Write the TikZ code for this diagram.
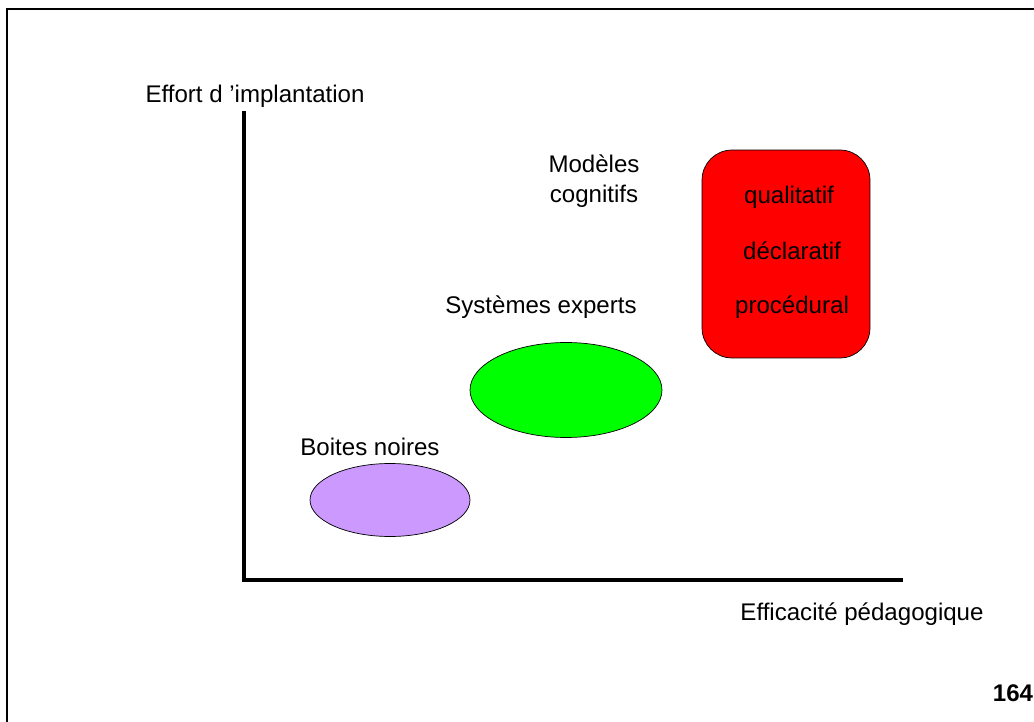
\documentclass[tikz,border=0pt]{standalone}
\usepackage{fontspec}
\setmainfont{Liberation Sans}
\usepackage{xcolor}
\usetikzlibrary{shapes.geometric,positioning}
\definecolor{lilac}{HTML}{CC99FF}
\definecolor{brightgreen}{HTML}{00FF00}
\definecolor{brightred}{HTML}{FF0000}

\begin{document}
\begin{tikzpicture}[x=0.02cm,y=-0.02cm]
    \tikzstyle{label} = [inner sep=0pt, font=\fontsize{13.7}{17}\selectfont]
    \tikzstyle{blob} = [ellipse, draw, thin, inner sep=0pt]
    \tikzstyle{axis} = [line width=2.3pt]
    \useasboundingbox (0,0) rectangle (1034,722);

    % frame
    \draw[line width=1.1pt] (7,722) -- (7,9) -- (1034,9);

    % axes
    \coordinate (origin) at (244,580);
    \coordinate (ytop) at (244,111);
    \coordinate (xend) at (903,580);
    \draw[axis] (ytop) -- (origin) -- (xend);
    \node [label] (ylabel) at (255,96) {Effort d 'implantation};
    \node [label] (xlabel) at (862,614) {Efficacité pédagogique};

    % boxes
    \node [blob, fill=lilac, minimum width=3.2cm, minimum height=1.46cm] (boites) at (390,500) {};
    \node [label] (boiteslabel) at (370,447) {Boites noires};
    \node [blob, fill=brightgreen, minimum width=3.84cm, minimum height=1.9cm] (experts) at (566,390) {};
    \node [label] (expertslabel) at (541,307) {Systèmes experts};
    \node [draw, thin, fill=brightred, rounded corners=0.6cm, minimum width=3.36cm, minimum height=4.16cm] (cognitifs) at (786,254) {};
    \node [label, align=center] (cognitifslabel) at (594,181) {Modèles\\cognitifs};
    \node [label] (qualitatif) at (789,197) {qualitatif};
    \node [label] (declaratif) at (792,251) {déclaratif};
    \node [label] (procedural) at (792,307) {procédural};

    % page number
    \node [label, font=\fontsize{13.7}{17}\selectfont\bfseries] (page) at (1013,693) {164};
\end{tikzpicture}
\end{document}
